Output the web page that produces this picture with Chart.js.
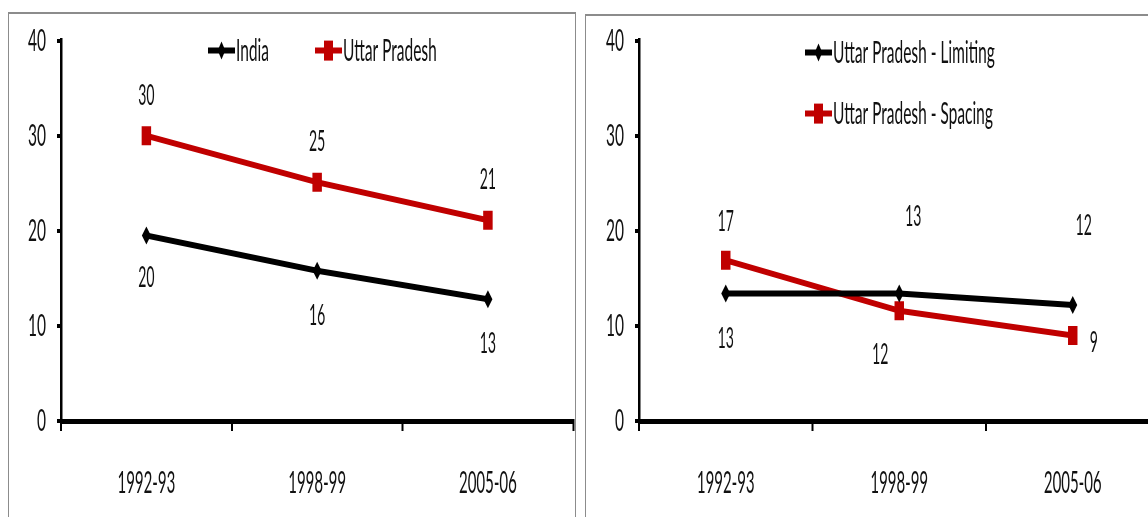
<!DOCTYPE html>
<html>
<head>
<meta charset="utf-8">
<script src="https://cdn.jsdelivr.net/npm/chart.js@4.4.1/dist/chart.umd.min.js"></script>
<style>
  html { overflow: hidden; }
  html, body { margin: 0; padding: 0; background: #fff; }
  body { width: 1148px; height: 517px; }
  /* the original picture is stretched vertically, so draw at half height and scale */
  #stage { position: relative; width: 1148px; height: 259px; transform: scaleY(2); transform-origin: 0 0; }
  .panel { position: absolute; border: 1px solid #8c8c8c; background: #fff; }
  #panelA { left: 8px; top: 6px; width: 566px; height: 300px; }
  #panelB { left: 585px; top: 7px; width: 600px; height: 300px; }
  canvas { position: absolute; top: 0; }
  #chartA { left: 0; }
  #chartB { left: 580px; }
</style>
</head>
<body>
<div id="stage">
  <div class="panel" id="panelA"></div>
  <div class="panel" id="panelB"></div>
  <canvas id="chartA" width="580" height="259"></canvas>
  <canvas id="chartB" width="590" height="259"></canvas>
</div>
<script>
const years = ["1992-93", "1998-99", "2005-06"];
const indiaValues = [19.5, 15.8, 12.8];
const upValues = [30.0, 25.1, 21.1];
const limitingValues = [13.4, 13.4, 12.2];
const spacingValues = [16.9, 11.6, 9.0];
const yTicks = [0, 10, 20, 30, 40];

const BLACK = "#000000";
const RED = "#c00000";
const FONT = "Lato, 'Open Sans', sans-serif";
const CANVAS_H = 259;
const AXIS_Y = 210.5;

// value labels next to each point (offsets in unstretched px)
const valueLabels = {
    id: "valueLabels",
    afterDatasetsDraw(chart, args, opts) {
        const ctx = chart.ctx;
        ctx.save();
        ctx.font = "14px " + FONT;
        ctx.fillStyle = "#111";
        ctx.textAlign = "center";
        ctx.textBaseline = "middle";
        chart.data.datasets.forEach((ds, i) => {
            chart.getDatasetMeta(i).data.forEach((pt, j) => {
                const off = opts.offsets[i][j];
                ctx.fillText(String(Math.round(ds.data[j])), pt.x + off[0], pt.y + off[1]);
            });
        });
        ctx.restore();
    }
};

function drawMarker(ctx, style, x, y, color) {
    ctx.fillStyle = color;
    ctx.beginPath();
    if (style === "rect") {
        ctx.rect(x - 4.5, y - 5, 9, 10);
    } else {
        ctx.moveTo(x, y - 4.5);
        ctx.lineTo(x + 3.8, y);
        ctx.lineTo(x, y + 4.5);
        ctx.lineTo(x - 3.8, y);
        ctx.closePath();
    }
    ctx.fill();
}

// excel style legend: short line with the marker in the middle
const excelLegend = {
    id: "excelLegend",
    afterDraw(chart, args, opts) {
        const ctx = chart.ctx;
        const area = chart.chartArea;
        ctx.save();
        ctx.font = "15.5px " + FONT;
        ctx.textBaseline = "middle";
        ctx.textAlign = "left";
        chart.data.datasets.forEach((ds, i) => {
            const spot = opts.spots[i];
            const x = area.left + spot[0];
            const y = area.top + spot[1];
            ctx.strokeStyle = ds.borderColor;
            ctx.lineWidth = 3;
            ctx.beginPath();
            ctx.moveTo(x, y);
            ctx.lineTo(x + 27, y);
            ctx.stroke();
            drawMarker(ctx, ds.pointStyle, x + 13.5, y, ds.borderColor);
            ctx.fillStyle = "#111";
            ctx.fillText(ds.label, x + 28, y);
        });
        ctx.restore();
    }
};

function makeDataset(label, values, color, style) {
    return {
        label: label,
        data: values,
        borderColor: color,
        backgroundColor: color,
        borderWidth: 3,
        tension: 0,
        pointStyle: style,
        pointRadius: style === "rect" ? 6.7 : 4.5,
        pointBorderWidth: 0
    };
}

function buildOptions(offsets, spots, yAxisWidth, padTop, padRight) {
    return {
        responsive: false,
        devicePixelRatio: 2,
        animation: false,
        layout: { padding: { top: padTop, right: padRight, left: 0, bottom: 0 } },
        plugins: {
            legend: { display: false },
            tooltip: { enabled: false },
            valueLabels: { offsets: offsets },
            excelLegend: { spots: spots }
        },
        scales: {
            x: {
                offset: true,
                grid: { offset: true, drawOnChartArea: false, drawTicks: true, tickLength: 5, color: BLACK, lineWidth: 2 },
                border: { display: true, color: BLACK, width: 2.5 },
                ticks: { color: "#111", font: { family: FONT, size: 15 }, padding: 17 },
                afterFit: s => { s.height = CANVAS_H - AXIS_Y; }
            },
            y: {
                min: yTicks[0],
                max: yTicks[yTicks.length - 1],
                ticks: { stepSize: yTicks[1] - yTicks[0], padding: 11, color: "#111", font: { family: FONT, size: 15.5 } },
                grid: { drawOnChartArea: false, drawTicks: true, tickLength: 4, color: BLACK, lineWidth: 2 },
                border: { display: true, color: BLACK, width: 2.5 },
                afterFit: s => { s.width = yAxisWidth; }
            }
        }
    };
}

new Chart(document.getElementById("chartA"), {
    type: "line",
    data: {
        labels: years,
        datasets: [
            makeDataset("India", indiaValues, BLACK, "rectRot"),
            makeDataset("Uttar Pradesh", upValues, RED, "rect")
        ]
    },
    options: buildOptions(
        [[[0, 21], [0, 22.5], [0, 22.5]], [[0, -20], [0, -20], [0, -20]]],
        [[147, 5], [254, 5]],
        61, 17, 3
    ),
    plugins: [valueLabels, excelLegend]
});

new Chart(document.getElementById("chartB"), {
    type: "line",
    data: {
        labels: years,
        datasets: [
            makeDataset("Uttar Pradesh - Limiting", limitingValues, BLACK, "rectRot"),
            makeDataset("Uttar Pradesh - Spacing", spacingValues, RED, "rect")
        ]
    },
    options: buildOptions(
        [[[0, 22.5], [14, -38.5], [11, -39.5]], [[0, -19], [-19, 22], [21, 4]]],
        [[166, 6], [166, 36.5]],
        59, 18, 10.5
    ),
    plugins: [valueLabels, excelLegend]
});
</script>
</body>
</html>
